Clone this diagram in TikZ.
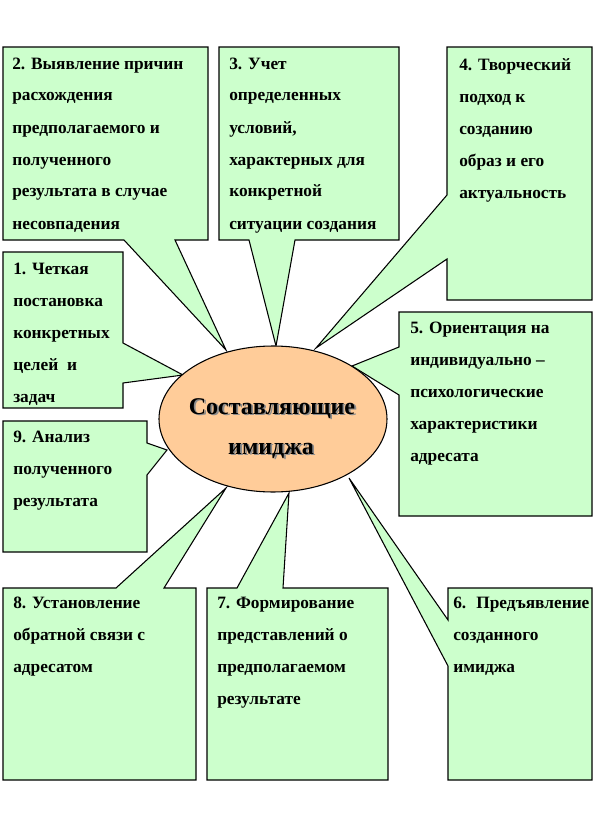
\documentclass[tikz,border=0pt]{standalone}
\usepackage{fontspec}
\setmainfont{Liberation Serif}
\usetikzlibrary{shapes.geometric}
\definecolor{boxgreen}{HTML}{CCFFCC}
\definecolor{peach}{HTML}{FFCC99}
\newcommand{\btxt}[1]{\parbox[t]{7cm}{\raggedright #1}}
\tikzset{
  callout/.style={draw=black, line width=0.8pt, fill=boxgreen, line join=miter},
  btext/.style={anchor=base west, inner sep=0pt, font=\fontsize{13}{24}\selectfont\bfseries},
  ttext/.style={anchor=base, inner sep=0pt, font=\fontsize{18}{22}\selectfont\bfseries},
  tshadow/.style={ttext, text=black!45}
}
\begin{document}
\begin{tikzpicture}[x=0.75pt,y=-0.75pt]
\useasboundingbox (0,0) rectangle (615,828);
\fill[white] (0,0) rectangle (615,828);
% pointer tips
\coordinate (p1) at (183,375);
\coordinate (p2) at (226,350);
\coordinate (p3) at (276,346);
\coordinate (p4) at (316,348);
\coordinate (p5) at (352,366);
\coordinate (p6) at (349,478);
\coordinate (p7) at (289,493);
\coordinate (p8) at (226,488);
\coordinate (p9) at (167,450);
% callouts
\draw[callout] (3,47) -- (208,47) -- (208,240) -- (175,240) -- (p2) -- (124,240) -- (3,240) -- cycle;
\draw[callout] (219,47) -- (399,47) -- (399,240) -- (295,240) -- (p3) -- (249,240) -- (219,240) -- cycle;
\draw[callout] (447,47) -- (592,47) -- (592,300) -- (447,300) -- (447,259) -- (p4) -- (447,195) -- cycle;
\draw[callout] (399,312) -- (592,312) -- (592,516) -- (399,516) -- (399,395) -- (p5) -- (399,347) -- cycle;
\draw[callout] (3,252) -- (123,252) -- (123,343) -- (p1) -- (123,383) -- (123,408) -- (3,408) -- cycle;
\draw[callout] (3,421) -- (147,421) -- (147,443) -- (p9) -- (147,475) -- (147,552) -- (3,552) -- cycle;
\draw[callout] (3,588) -- (116,588) -- (p8) -- (164,588) -- (196,588) -- (196,780) -- (3,780) -- cycle;
\draw[callout] (207,588) -- (237,588) -- (p7) -- (283,588) -- (388,588) -- (388,780) -- (207,780) -- cycle;
\draw[callout] (448,588) -- (592,588) -- (592,780) -- (448,780) -- (448,666) -- (p6) -- (448,620) -- cycle;
% centre ellipse
\node[ellipse, draw=black, line width=0.8pt, fill=peach, minimum width=171pt, minimum height=109.5pt, inner sep=0pt] (center) at (273,419) {};
\node[tshadow] at (273.8,415.8) {Составляющие};
\node[tshadow] at (272.8,455.8) {имиджа};
\node[ttext] (title1) at (272,414) {Составляющие};
\node[ttext] (title2) at (271,454) {имиджа};
% box texts
\node[btext] (t2) at (12,69) {\btxt{2. Выявление причин\\расхождения\\предполагаемого и\\полученного\\результата в случае\\несовпадения}};
\node[btext] (t3) at (229,69) {\btxt{3. Учет\\определенных\\условий,\\характерных для\\конкретной\\ситуации создания}};
\node[btext] (t4) at (459,70) {\btxt{4. Творческий\\подход к\\созданию\\образ и его\\актуальность}};
\node[btext] (t1) at (13,274) {\btxt{1. Четкая\\постановка\\конкретных\\целей~ и\\задач}};
\node[btext] (t5) at (410,333) {\btxt{5. Ориентация на\\индивидуально~–\\психологические\\характеристики\\адресата}};
\node[btext] (t9) at (13,442) {\btxt{9. Анализ\\полученного\\результата}};
\node[btext] (t8) at (13,608) {\btxt{8. Установление\\обратной связи с\\адресатом}};
\node[btext] (t7) at (217,608) {\btxt{7. Формирование\\представлений о\\предполагаемом\\результате}};
\node[btext] (t6) at (453,608) {\btxt{6.~ Предъявление\\созданного\\имиджа}};
\end{tikzpicture}
\end{document}
